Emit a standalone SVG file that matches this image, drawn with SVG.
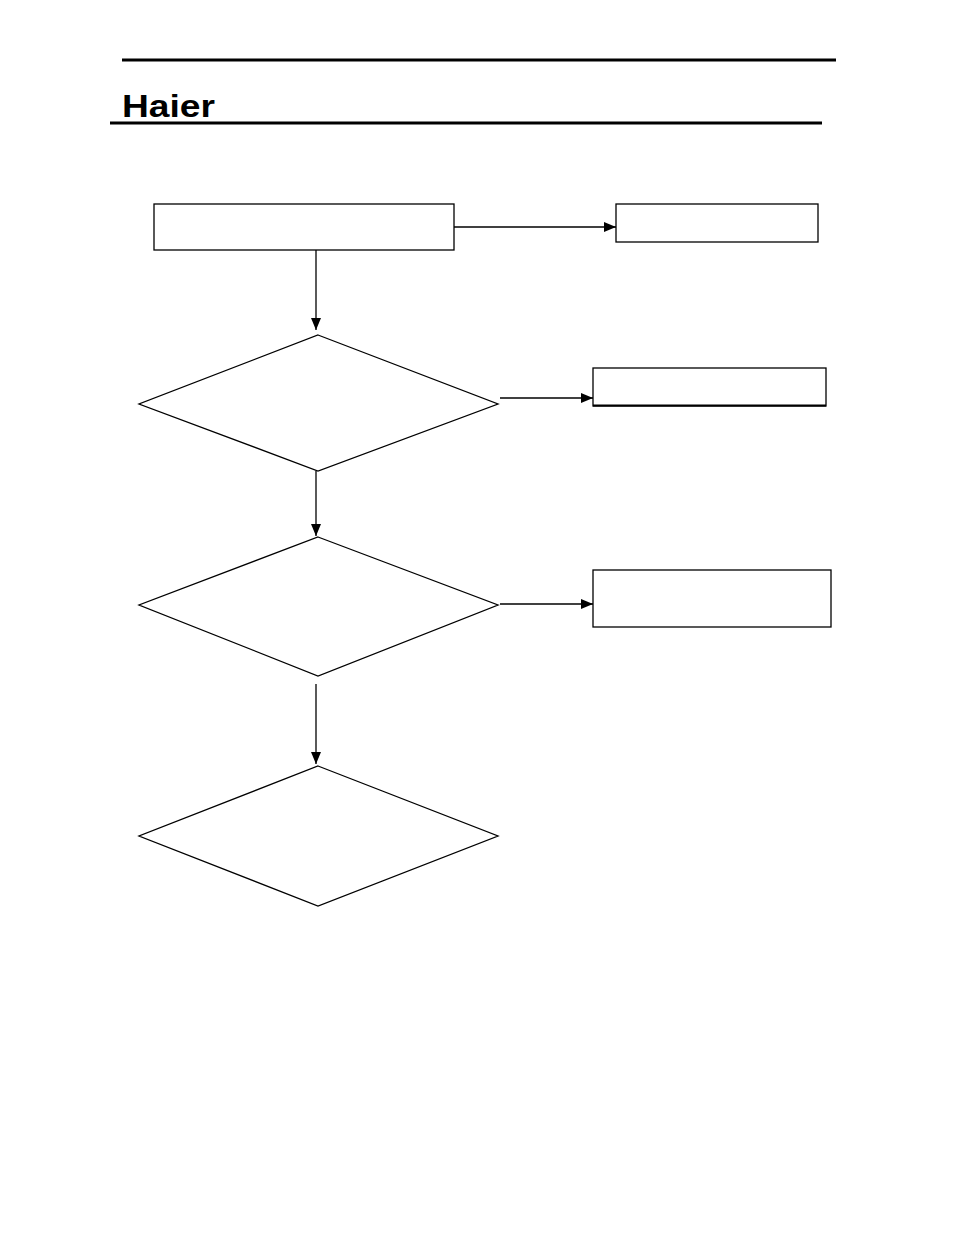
<svg xmlns="http://www.w3.org/2000/svg" width="954" height="1235" viewBox="0 0 954 1235">
<style>.n{fill:#fff;stroke:#000;stroke-width:1.3}.c{stroke:#000;stroke-width:1.3;fill:none}</style>
<defs><marker id="a" markerWidth="12" markerHeight="10" refX="12" refY="5" orient="auto" markerUnits="userSpaceOnUse"><path d="M0,0L12,5L0,10z" fill="#000"/></marker></defs>
<rect width="954" height="1235" fill="#fff"/>
<line x1="122" y1="60" x2="836" y2="60" stroke="#000" stroke-width="3"/>
<line x1="110" y1="123" x2="822" y2="123" stroke="#000" stroke-width="3"/>
<text x="122" y="117" font-family="Liberation Sans, sans-serif" font-weight="bold" font-size="31" textLength="93" lengthAdjust="spacingAndGlyphs">Haier</text>
<g id="n1"><rect class="n" x="154" y="204" width="300" height="46"/></g>
<g id="n2"><rect class="n" x="616" y="204" width="202" height="38"/></g>
<g id="d1"><polygon class="n" points="318,335 498,404 318,471 139,404"/></g>
<g id="n3"><rect class="n" x="593" y="368" width="233" height="38"/><line x1="593" y1="405.5" x2="826" y2="405.5" stroke="#000" stroke-width="2"/></g>
<g id="d2"><polygon class="n" points="318,537 498,605 318,676 139,605"/></g>
<g id="n4"><rect class="n" x="593" y="570" width="238" height="57"/></g>
<g id="d3"><polygon class="n" points="318,766 498,836 318,906 139,836"/></g>
<g id="connectors">
<line class="c" x1="454" y1="227" x2="616" y2="227" marker-end="url(#a)"/>
<line class="c" x1="316" y1="250" x2="316" y2="330" marker-end="url(#a)"/>
<line class="c" x1="500" y1="398" x2="593" y2="398" marker-end="url(#a)"/>
<line class="c" x1="316" y1="471" x2="316" y2="536" marker-end="url(#a)"/>
<line class="c" x1="500" y1="604" x2="593" y2="604" marker-end="url(#a)"/>
<line class="c" x1="316" y1="684" x2="316" y2="764" marker-end="url(#a)"/>
</g>
</svg>
